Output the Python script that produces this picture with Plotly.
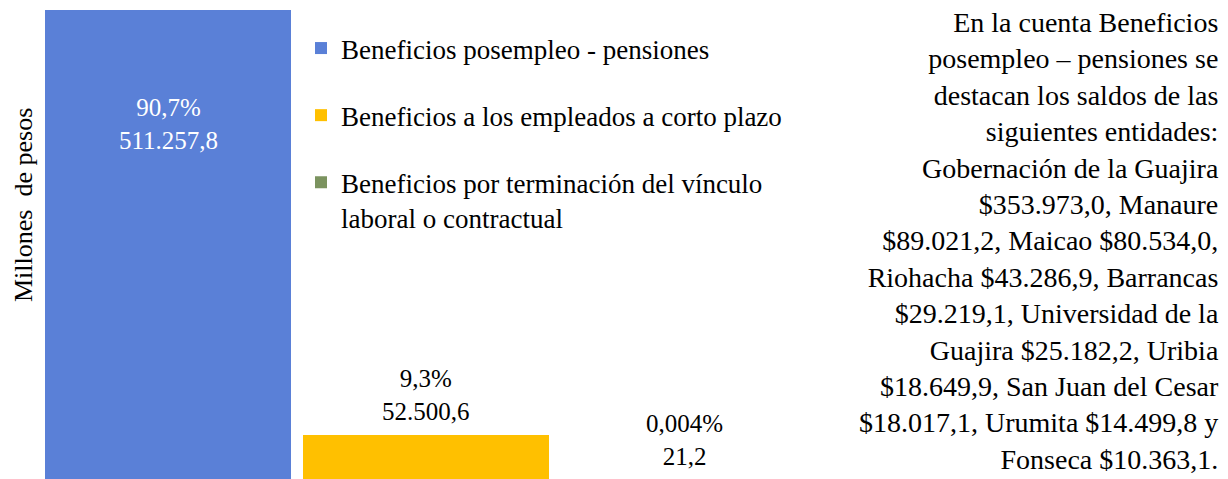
import plotly.graph_objects as go

categories = [
    "Beneficios posempleo - pensiones",
    "Beneficios a los empleados a corto plazo",
    "Beneficios por terminación del vínculo<br>laboral o contractual",
]
values = [511257.8, 52500.6, 21.2]
percents = [90.7, 9.3, 0.004]
pct_decimals = [1, 1, 3]
colors = ["#5A80D7", "#FFC000", "#7B935F"]
label_colors = ["white", "black", "black"]

note_lines = [
    "En la cuenta Beneficios",
    "posempleo – pensiones se",
    "destacan los saldos de las",
    "siguientes entidades:",
    "Gobernación de la Guajira",
    "$353.973,0, Manaure",
    "$89.021,2, Maicao $80.534,0,",
    "Riohacha $43.286,9, Barrancas",
    "$29.219,1, Universidad de la",
    "Guajira $25.182,2, Uribia",
    "$18.649,9, San Juan del Cesar",
    "$18.017,1, Urumita $14.499,8 y",
    "Fonseca $10.363,1.",
]
y_title = "Millones\u00a0 de pesos"


def fmt_es(v, d):
    s = f"{v:,.{d}f}"
    return s.replace(",", "X").replace(".", ",").replace("X", ".")


FONT = "Liberation Serif, Times New Roman, serif"
OFF = 8  # default page body margin
W, H = 1228 - OFF, 479 - OFF
ML, MT, MB = 39 - OFF, 10 - OFF, 0
PW = 774
MR = W - ML - PW
PH = H - MT - MB

# the reference view is cropped slightly above the zero baseline
Y_MIN = 5000.0
Y_MAX = values[0]


def fx(p):  # window pixel -> paper x
    return (p - OFF - ML) / PW


def fy(p):  # window pixel -> paper y
    return (H - MB - (p - OFF)) / PH


fig = go.Figure()
for i, (c, v, col) in enumerate(zip(categories, values, colors)):
    fig.add_trace(go.Bar(
        x=[i], y=[v], name=c, marker=dict(color=col, line=dict(width=0)),
        legendgroup=f"g{i}", hoverinfo="skip",
    ))
    txt = f"{fmt_es(percents[i], pct_decimals[i])}%<br>{fmt_es(v, 1)}"
    if i == 0:
        fig.add_annotation(x=i, y=v, xref="x", yref="y", text=txt, showarrow=False,
                           yanchor="top", yshift=-82,
                           font=dict(family=FONT, size=25, color=label_colors[i]))
    else:
        fig.add_annotation(x=i, y=max(v, Y_MIN), xref="x", yref="y", text=txt,
                           showarrow=False, yanchor="bottom",
                           yshift=8 if v >= Y_MIN else 7,
                           font=dict(family=FONT, size=25, color=label_colors[i]))

fig.add_annotation(x=fx(23), y=fy(205), xref="paper", yref="paper",
                   text=y_title, textangle=-90, showarrow=False,
                   xanchor="center", yanchor="middle",
                   font=dict(family=FONT, size=26, color="black"))

fig.add_annotation(x=fx(1221), y=fy(241), xref="paper", yref="paper",
                   text="<br>".join(note_lines), showarrow=False, align="right",
                   xanchor="right", yanchor="middle",
                   font=dict(family=FONT, size=28, color="black"))

fig.update_layout(
    width=W, height=H,
    margin=dict(l=ML, r=MR, t=MT, b=MB, pad=0, autoexpand=False),
    paper_bgcolor="white", plot_bgcolor="white",
    barmode="relative", bargap=0.0465,
    showlegend=True,
    legend=dict(
        x=fx(301), y=fy(24), xanchor="left", yanchor="top",
        traceorder="grouped", tracegroupgap=29, valign="top",
        font=dict(family=FONT, size=27, color="black"),
        bgcolor="rgba(0,0,0,0)", itemclick=False, itemdoubleclick=False,
    ),
    xaxis=dict(visible=False, range=[-0.5, 2.5]),
    yaxis=dict(visible=False, range=[Y_MIN, Y_MAX]),
)

fig.write_html("out.html")
